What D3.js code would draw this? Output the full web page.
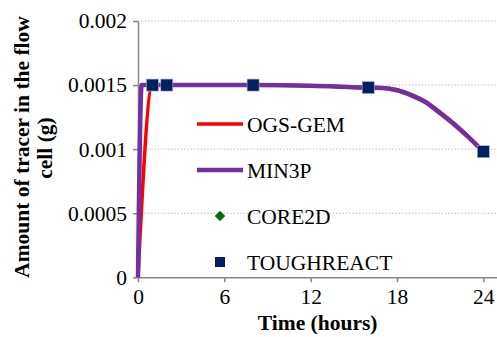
<!DOCTYPE html>
<html>
<head>
<meta charset="utf-8">
<script src="https://cdn.jsdelivr.net/npm/d3@7"></script>
<style>
  body { margin: 0; background: #fff; }
</style>
</head>
<body>
<div id="chart"></div>
<script>
// values
const xTicks = [0, 6, 12, 18, 24];
const yTicks = [0, 0.0005, 0.001, 0.0015, 0.002];
const yTickLabels = ['0', '0.0005', '0.001', '0.0015', '0.002'];

const ogsTime = [0, 1, 2, 4, 8, 12, 16, 17, 18, 19, 20, 21, 22, 23, 24];
const ogsValue = [0, 0.0015, 0.0015, 0.0015, 0.0015, 0.001495, 0.001482, 0.00148, 0.001464, 0.001426, 0.001372, 0.001288, 0.001197, 0.001095, 0.000985];

const min3pTime = [0, 0.25, 1, 2, 4, 8, 12, 16, 17, 18, 19, 20, 21, 22, 23, 24];
const min3pValue = [0, 0.0015, 0.0015, 0.0015, 0.0015, 0.0015, 0.001495, 0.00148, 0.001478, 0.00146, 0.00142, 0.001365, 0.00128, 0.00119, 0.00109, 0.00098];

const core2dTime = [1, 2, 8, 16, 24];
const core2dValue = [0.0015, 0.0015, 0.0015, 0.00148, 0.00098];

const toughTime = [1, 2, 8, 16, 24];
const toughValue = [0.0015, 0.0015, 0.0015, 0.00148, 0.00098];

const legendNames = ['OGS-GEM', 'MIN3P', 'CORE2D', 'TOUGHREACT'];

const width = 497, height = 337;
const axisColor = '#868686';
const fontSize = 21.5;

const svg = d3.select('#chart').append('svg')
  .attr('width', width)
  .attr('height', height)
  .attr('font-family', 'serif');

const x = d3.scaleLinear().domain([0, 25]).range([138, 497.7]);
const y = d3.scaleLinear().domain([0, 0.002]).range([277.3, 21]);

// gridlines
svg.append('g')
  .selectAll('line')
  .data(yTicks.slice(1))
  .enter().append('line')
  .attr('x1', x(0)).attr('x2', width)
  .attr('y1', d => y(d)).attr('y2', d => y(d))
  .attr('stroke', '#b8b8b8')
  .attr('stroke-width', 1)
  .attr('stroke-dasharray', '1.3,2');

// y axis
const yAxis = svg.append('g')
  .attr('transform', `translate(${x(0)},0)`)
  .call(d3.axisLeft(y).tickValues(yTicks).tickFormat((d, i) => yTickLabels[i]).tickSize(5).tickSizeOuter(0).tickPadding(6))
  .attr('font-family', 'serif')
  .attr('font-size', fontSize);
yAxis.select('.domain').attr('stroke', axisColor).attr('stroke-width', 1.5);
yAxis.selectAll('.tick line').attr('stroke', axisColor).attr('stroke-width', 1.5);
yAxis.selectAll('.tick text').attr('fill', '#000');

// x axis
const xAxis = svg.append('g')
  .attr('transform', `translate(0,${y(0)})`)
  .call(d3.axisBottom(x).tickValues(xTicks).tickSize(5).tickSizeOuter(0).tickPadding(6))
  .attr('font-family', 'serif')
  .attr('font-size', fontSize);
xAxis.select('.domain').attr('stroke', axisColor).attr('stroke-width', 1.5);
xAxis.selectAll('.tick line').attr('stroke', axisColor).attr('stroke-width', 1.5);
xAxis.selectAll('.tick text').attr('fill', '#000');

// axis titles
svg.append('text')
  .attr('x', (x(0) + x(24)) / 2 + 7).attr('y', 330)
  .attr('text-anchor', 'middle')
  .attr('font-size', fontSize).attr('font-weight', 'bold')
  .text('Time (hours)');

const yTitle = svg.append('g');
yTitle.append('text')
  .attr('transform', 'translate(29,147) rotate(-90)')
  .attr('text-anchor', 'middle')
  .attr('font-size', fontSize).attr('font-weight', 'bold')
  .text('Amount of tracer in the flow');
yTitle.append('text')
  .attr('transform', 'translate(52,148) rotate(-90)')
  .attr('text-anchor', 'middle')
  .attr('font-size', fontSize).attr('font-weight', 'bold')
  .text('cell (g)');

// lines
const line = d3.line()
  .x(d => x(d[0]))
  .y(d => y(d[1]))
  .curve(d3.curveMonotoneX);

svg.append('path')
  .datum(d3.zip(ogsTime, ogsValue))
  .attr('d', line)
  .attr('fill', 'none')
  .attr('stroke', '#ff0000')
  .attr('stroke-width', 3.5);

svg.append('path')
  .datum(d3.zip(min3pTime, min3pValue))
  .attr('d', line)
  .attr('fill', 'none')
  .attr('stroke', '#7030a0')
  .attr('stroke-width', 4.5);

// markers
const diamond = d3.symbol().type(d3.symbolDiamond2).size(70);
svg.append('g')
  .selectAll('path')
  .data(d3.zip(core2dTime, core2dValue))
  .enter().append('path')
  .attr('transform', d => `translate(${x(d[0])},${y(d[1])})`)
  .attr('d', diamond)
  .attr('fill', '#0b6b0b');

const sq = 12;
svg.append('g')
  .selectAll('rect')
  .data(d3.zip(toughTime, toughValue))
  .enter().append('rect')
  .attr('x', d => x(d[0]) - sq / 2)
  .attr('y', d => y(d[1]) - sq / 2)
  .attr('width', sq).attr('height', sq)
  .attr('fill', '#002060')
  .attr('stroke', '#a9b4cc')
  .attr('stroke-width', 0.6);

// legend
const legend = svg.append('g').attr('transform', 'translate(197,124)');
const rowGap = 46;
legend.append('line')
  .attr('x1', 0).attr('x2', 46).attr('y1', 0).attr('y2', 0)
  .attr('stroke', '#ff0000').attr('stroke-width', 3.5);
legend.append('line')
  .attr('x1', 0).attr('x2', 46).attr('y1', rowGap).attr('y2', rowGap)
  .attr('stroke', '#7030a0').attr('stroke-width', 4.5);
legend.append('path')
  .attr('transform', `translate(23,${rowGap * 2})`)
  .attr('d', diamond)
  .attr('fill', '#0b6b0b');
legend.append('rect')
  .attr('x', 18).attr('y', rowGap * 3 - 5)
  .attr('width', 10).attr('height', 10)
  .attr('fill', '#002060');
legend.selectAll('text.lbl')
  .data(legendNames)
  .enter().append('text')
  .attr('class', 'lbl')
  .attr('x', 50)
  .attr('y', (d, i) => i * rowGap + 7.5)
  .attr('font-size', fontSize)
  .text(d => d);
</script>
</body>
</html>
